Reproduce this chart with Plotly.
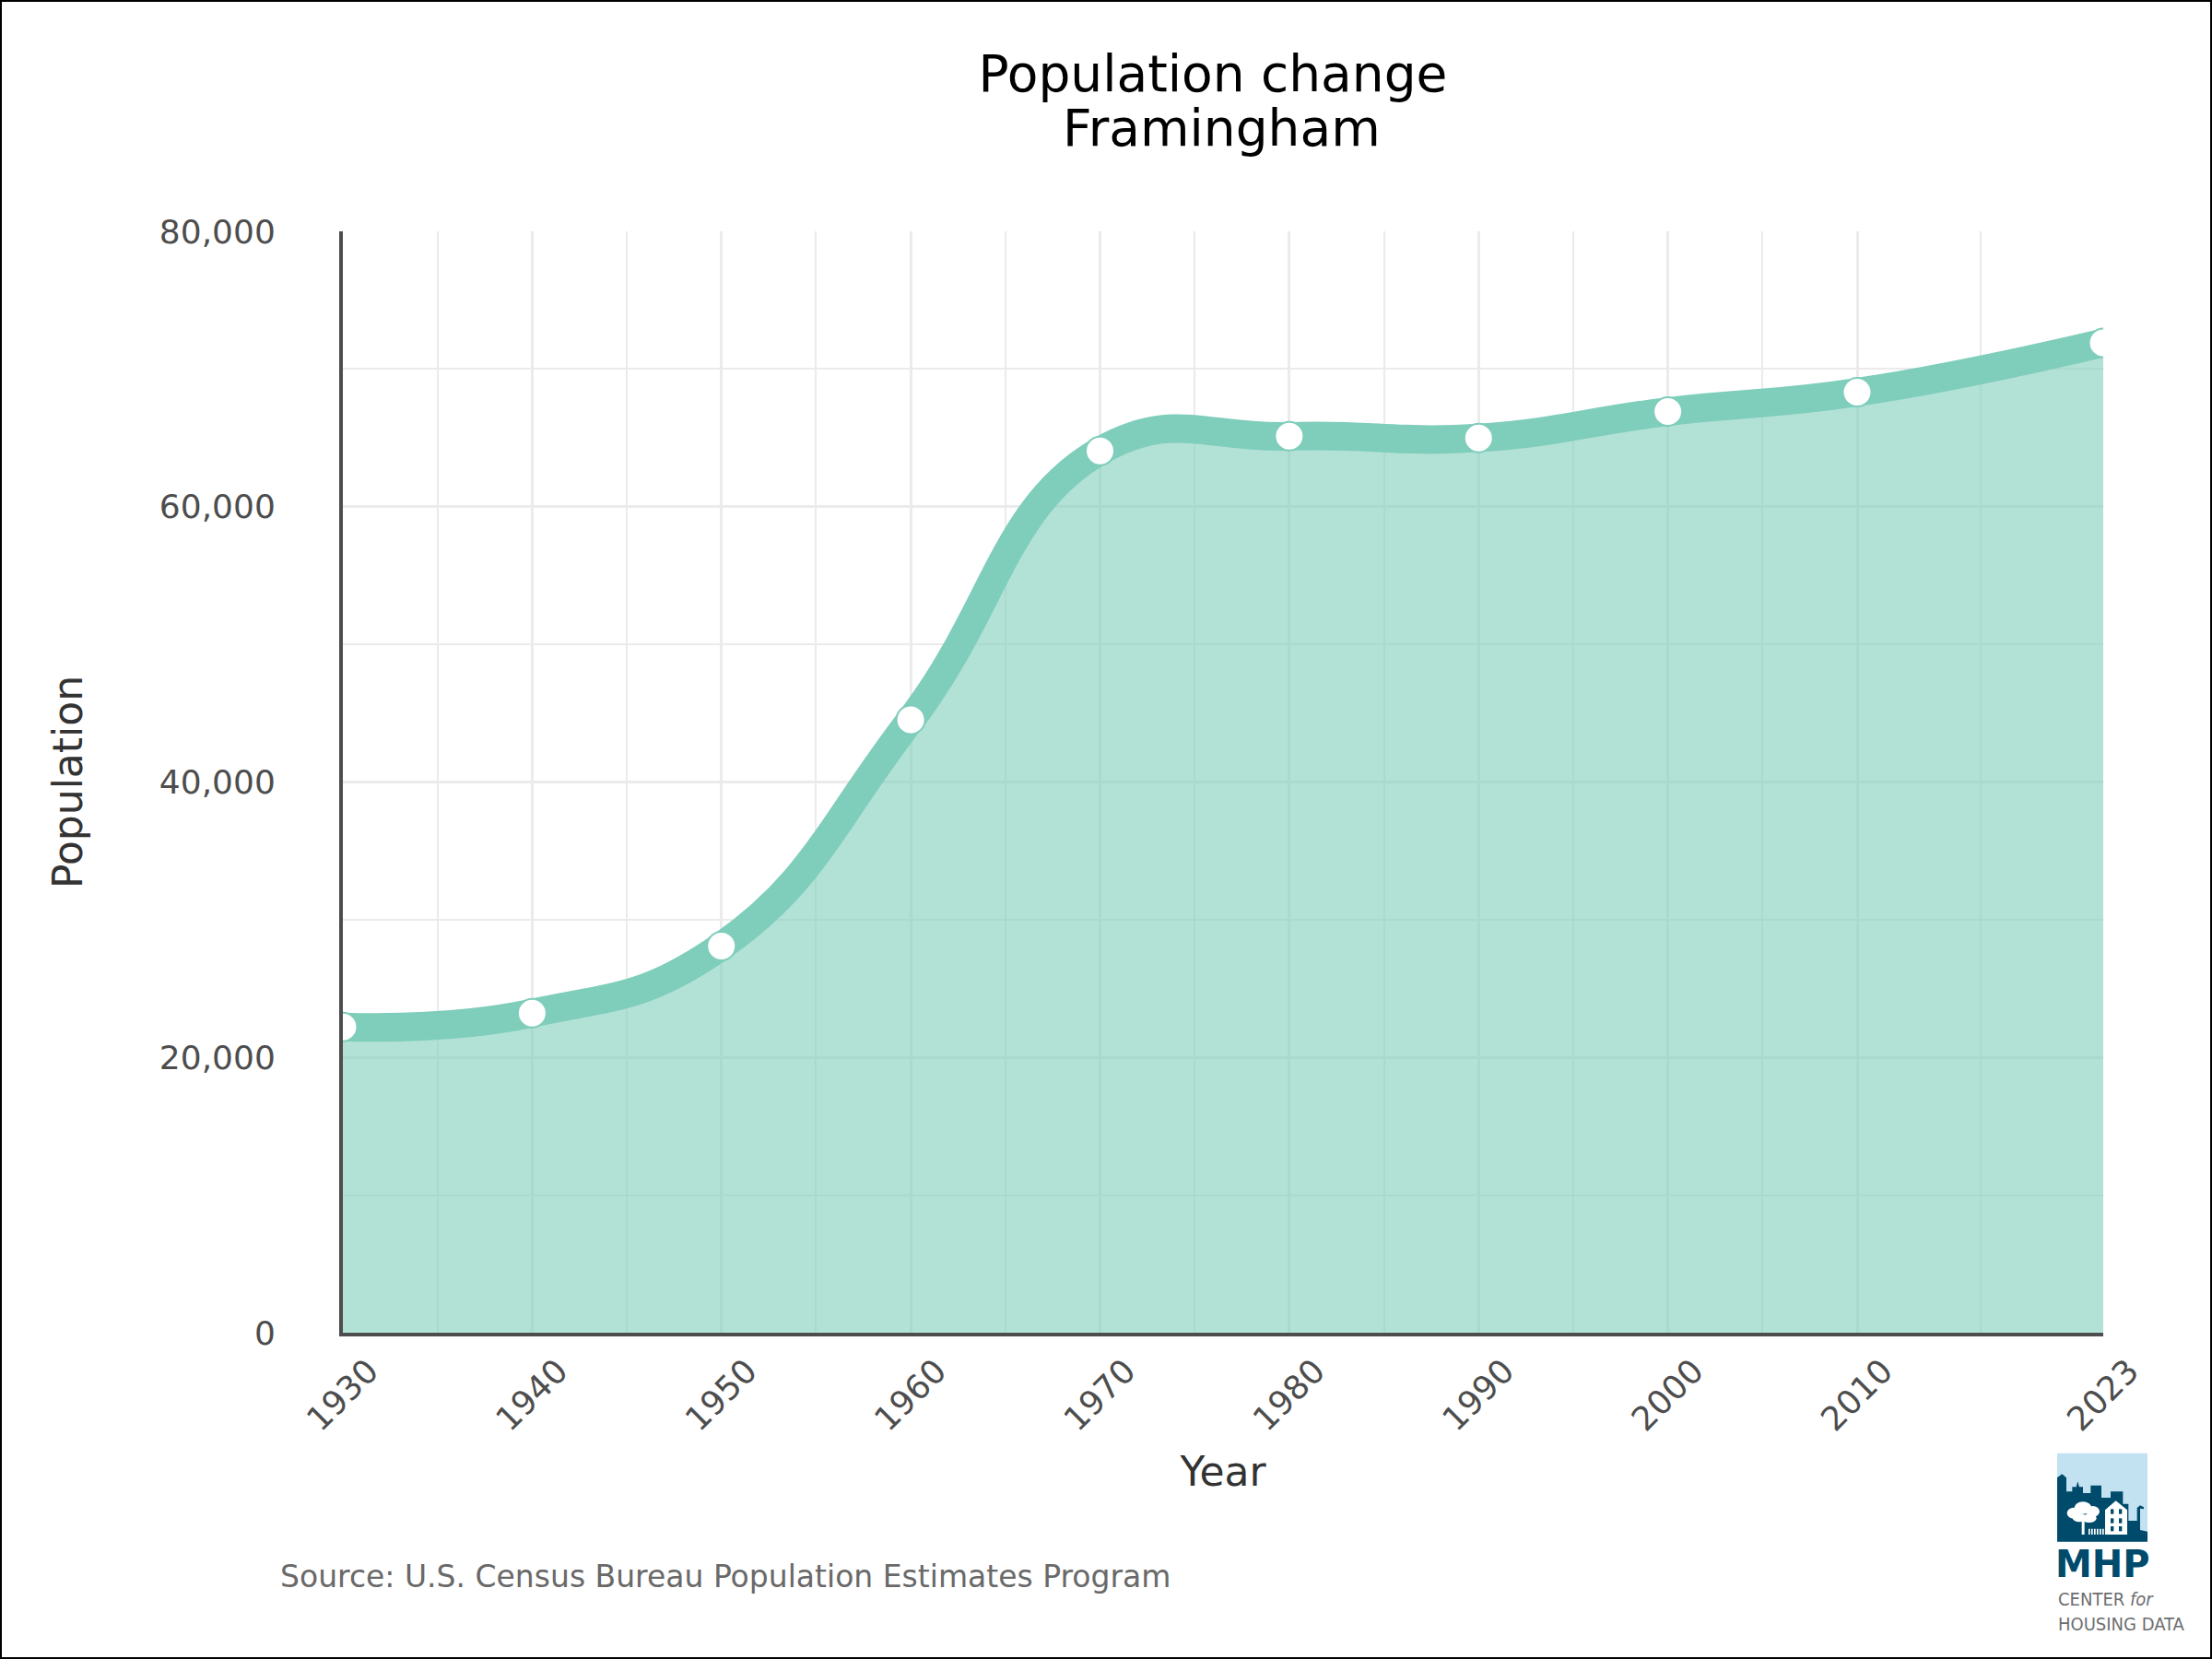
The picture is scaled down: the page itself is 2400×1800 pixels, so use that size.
import plotly.graph_objects as go

# ---------------- data ----------------
years = [1930, 1940, 1950, 1960, 1970, 1980, 1990, 2000, 2010, 2023]
population = [22210, 23214, 28086, 44526, 64048, 65113, 64994, 66910, 68318, 71900]
y_tick_values = [0, 20000, 40000, 60000, 80000]
y_tick_labels = ["0", "20,000", "40,000", "60,000", "80,000"]
x_tick_labels = [str(y) for y in years]
title_line1 = "Population change"
title_line2 = "Framingham"

# minor gridlines halfway between major ticks
x_minor = [(a + b) / 2 for a, b in zip(years[:-1], years[1:])]

# ---------------- layout geometry ----------------
W, H = 2400, 1800
L, R, T, B = 372, 118, 251, 354
PW, PH = W - L - R, H - T - B

def px_x(px):
    return (px - L) / PW

def px_y(py):
    return (H - B - py) / PH

LINE_C = "#7FCDBB"
FILL_C = "rgba(127,205,187,0.6)"
GRID_C = "#EBEBEB"
AXIS_C = "#4D4D4D"
FONT = "DejaVu Sans"

fig = go.Figure()
fig.add_trace(go.Scatter(
    x=years, y=population,
    mode="lines+markers",
    line=dict(color=LINE_C, width=31, shape="spline", smoothing=1.3),
    fill="tozeroy", fillcolor=FILL_C,
    marker=dict(size=31, color="white", line=dict(color=LINE_C, width=2)),
    cliponaxis=True,
    hoverinfo="x+y",
    showlegend=False,
))

fig.update_layout(
    width=W, height=H,
    margin=dict(l=L, r=R, t=T, b=B, autoexpand=False),
    paper_bgcolor="white", plot_bgcolor="white",
    font=dict(family=FONT, color=AXIS_C),
    title=dict(
        text=title_line1,
        font=dict(family=FONT, size=55, color="black"),
        x=1316 / W, xref="container", xanchor="center",
        y=1 - 60 / H, yref="container", yanchor="top",
    ),
    xaxis=dict(
        range=[years[0], years[-1]],
        tickmode="array", tickvals=years, ticktext=x_tick_labels,
        tickangle=-45, ticks="", ticklabelshift=28, ticklabelstandoff=2,
        tickfont=dict(family=FONT, size=36, color=AXIS_C),
        showgrid=True, gridcolor=GRID_C, gridwidth=3,
        minor=dict(tickmode="array", tickvals=x_minor, showgrid=True,
                   gridcolor=GRID_C, gridwidth=1.5),
        showline=True, linecolor=AXIS_C, linewidth=4,
        zeroline=False,
        title=dict(text="Year", font=dict(family=FONT, size=44, color="#333333"),
                   standoff=23),
    ),
    yaxis=dict(
        range=[0, 80000],
        tickmode="array", tickvals=y_tick_values, ticktext=y_tick_labels,
        ticks="", ticklabelstandoff=62,
        tickfont=dict(family=FONT, size=36, color=AXIS_C),
        showgrid=True, gridcolor=GRID_C, gridwidth=3,
        minor=dict(dtick=10000, showgrid=True, gridcolor=GRID_C, gridwidth=1.5),
        showline=True, linecolor=AXIS_C, linewidth=4,
        zeroline=False,
        title=dict(text="Population", font=dict(family=FONT, size=44, color="#333333"),
                   standoff=70),
    ),
)

# second title line
fig.add_annotation(
    text=title_line2, xref="paper", yref="paper",
    x=px_x(1325), y=px_y(139), xanchor="center", yanchor="middle",
    showarrow=False, font=dict(family=FONT, size=55, color="black"),
)

# source note
fig.add_annotation(
    text="Source: U.S. Census Bureau Population Estimates Program",
    xref="paper", yref="paper", x=px_x(302), y=px_y(1710),
    xanchor="left", yanchor="middle", showarrow=False,
    font=dict(family=FONT, size=33, color="#696969"),
)

# ---------------- logo (approximation) ----------------
def lx(X):
    return px_x(2150 + X / 3)

def ly(Y):
    return px_y(1550 + Y / 3)

def lpath(pts):
    s = "M " + " L ".join(f"{lx(a)},{ly(b)}" for a, b in pts) + " Z"
    return s

DARK = "#004B6B"
LIGHT = "#C2E2F2"
shapes = []
shapes.append(dict(type="rect", xref="paper", yref="paper",
                   x0=lx(246), x1=lx(540), y0=ly(368), y1=ly(80),
                   fillcolor=LIGHT, line=dict(width=0), layer="above"))
skyline = [(246, 368), (246, 160), (262, 148), (276, 160), (276, 205), (295, 205),
           (295, 190), (308, 190), (313, 172), (318, 190), (330, 190), (330, 210),
           (355, 210), (355, 185), (390, 185), (390, 225), (420, 225), (420, 205),
           (460, 205), (460, 245), (478, 245), (478, 300), (506, 300), (506, 258),
           (516, 250), (528, 256), (528, 262), (516, 260), (516, 330), (540, 335),
           (540, 368)]
shapes.append(dict(type="path", xref="paper", yref="paper", path=lpath(skyline),
                   fillcolor=DARK, line=dict(width=0), layer="above"))
# tree crown (several blobs) and trunk
for cx, cy, rx, ry in [(300, 275, 22, 18), (330, 258, 28, 20), (362, 270, 22, 18),
                       (318, 290, 22, 14), (350, 292, 24, 14)]:
    shapes.append(dict(type="circle", xref="paper", yref="paper",
                       x0=lx(cx - rx), x1=lx(cx + rx), y0=ly(cy + ry), y1=ly(cy - ry),
                       fillcolor="white", line=dict(width=0), layer="above"))
shapes.append(dict(type="rect", xref="paper", yref="paper",
                   x0=lx(326), x1=lx(335), y0=ly(345), y1=ly(295),
                   fillcolor="white", line=dict(width=0), layer="above"))
# fence
for fx in range(348, 400, 9):
    shapes.append(dict(type="rect", xref="paper", yref="paper",
                       x0=lx(fx), x1=lx(fx + 5), y0=ly(345), y1=ly(326),
                       fillcolor="white", line=dict(width=0), layer="above"))
# house
house = [(402, 345), (402, 265), (437, 235), (474, 265), (474, 345)]
shapes.append(dict(type="path", xref="paper", yref="paper", path=lpath(house),
                   fillcolor="white", line=dict(width=0), layer="above"))
for wx in (420, 447):
    for wy in (262, 292, 318):
        shapes.append(dict(type="rect", xref="paper", yref="paper",
                           x0=lx(wx), x1=lx(wx + 10), y0=ly(wy + 16), y1=ly(wy),
                           fillcolor=DARK, line=dict(width=0), layer="above"))

# outer frame
shapes.append(dict(type="rect", xref="paper", yref="paper",
                   x0=px_x(1), x1=px_x(W - 1), y0=px_y(H - 1), y1=px_y(1),
                   line=dict(color="black", width=2), fillcolor="rgba(0,0,0,0)",
                   layer="above"))
fig.update_layout(shapes=shapes)

fig.add_annotation(text="<b>MHP</b>", xref="paper", yref="paper",
                   x=px_x(2281), y=px_y(1697), xanchor="center", yanchor="middle",
                   showarrow=False, font=dict(family=FONT, size=40, color=DARK))
fig.add_annotation(text="CENTER <i>for</i>", xref="paper", yref="paper",
                   x=px_x(2231), y=px_y(1735), xanchor="left", yanchor="middle",
                   showarrow=False,
                   font=dict(family="DejaVu Sans Condensed, Liberation Sans Narrow, DejaVu Sans",
                             size=20, color="#6D6E70"))
fig.add_annotation(text="HOUSING DATA", xref="paper", yref="paper",
                   x=px_x(2231), y=px_y(1762), xanchor="left", yanchor="middle",
                   showarrow=False,
                   font=dict(family="DejaVu Sans Condensed, Liberation Sans Narrow, DejaVu Sans",
                             size=20, color="#6D6E70"))

fig.write_html("out.html", config={"displayModeBar": False},
               post_script="document.body.style.margin='0';")
